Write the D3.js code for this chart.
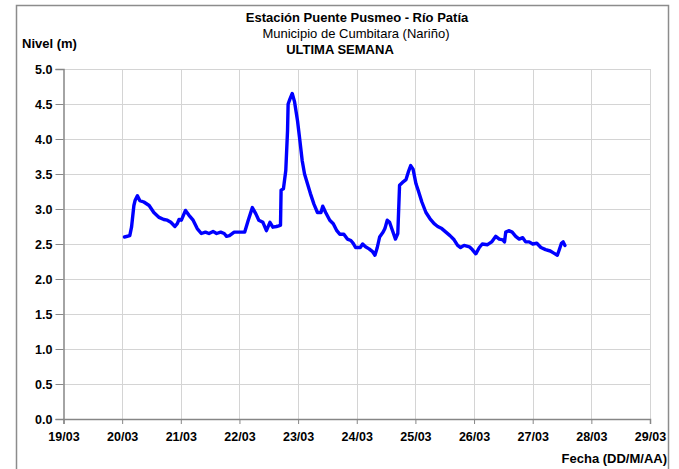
<!DOCTYPE html>
<html>
<head>
<meta charset="utf-8">
<script src="https://cdn.jsdelivr.net/npm/d3@7"></script>
<style>
  html, body { margin: 0; padding: 0; background: #fff; }
  svg { display: block; font-family: "Liberation Sans", Arial, sans-serif; }
</style>
</head>
<body>
<svg id="chart" width="679" height="469"></svg>
<script>
// ---- data ----
const titleMain = "Estación Puente Pusmeo - Río Patía";
const titleSub = "Municipio de Cumbitara (Nariño)";
const titlePeriod = "ULTIMA SEMANA";
const yTitle = "Nivel (m)";
const xTitle = "Fecha (DD/M/AA)";

const xTickDays = [19, 20, 21, 22, 23, 24, 25, 26, 27, 28, 29];
const xTickLabels = ["19/03", "20/03", "21/03", "22/03", "23/03", "24/03", "25/03", "26/03", "27/03", "28/03", "29/03"];
const yTicks = [0, 0.5, 1, 1.5, 2, 2.5, 3, 3.5, 4, 4.5, 5];

// time as day of March (fractional)
const times = [
  20.04, 20.13, 20.16, 20.20, 20.22, 20.26, 20.30, 20.37, 20.46, 20.54, 20.63, 20.71, 20.77, 20.83, 20.90, 20.94, 20.97,
  21.01, 21.08, 21.14, 21.21, 21.28, 21.35, 21.42, 21.48, 21.55, 21.61, 21.68, 21.74, 21.78, 21.83, 21.91, 21.99,
  22.09, 22.15, 22.22, 22.28, 22.33, 22.40, 22.46, 22.52, 22.57, 22.63, 22.67, 22.70, 22.71, 22.75, 22.79, 22.82, 22.83, 22.86, 22.90, 22.94, 22.99,
  23.03, 23.07, 23.11, 23.16, 23.21, 23.27, 23.33, 23.39, 23.42, 23.47, 23.54, 23.60, 23.66, 23.71, 23.78, 23.84, 23.90, 23.94, 23.98,
  24.06, 24.10, 24.15, 24.21, 24.27, 24.31, 24.35, 24.39, 24.45, 24.48, 24.52, 24.56, 24.61, 24.66, 24.70, 24.73, 24.78, 24.84, 24.88, 24.92, 24.96,
  25.01, 25.05, 25.11, 25.18, 25.25, 25.32, 25.38, 25.45, 25.52, 25.59, 25.66, 25.72, 25.77, 25.83, 25.92, 25.97,
  26.03, 26.09, 26.14, 26.23, 26.30, 26.37, 26.43, 26.49, 26.52, 26.54, 26.60, 26.65, 26.71, 26.77, 26.83, 26.88, 26.94,
  27.00, 27.07, 27.14, 27.22, 27.30, 27.36, 27.42, 27.45, 27.49, 27.52, 27.55
];
const levels = [
  2.60, 2.62, 2.74, 3.05, 3.12, 3.19, 3.12, 3.10, 3.05, 2.95, 2.88, 2.85, 2.84, 2.81, 2.75, 2.79, 2.85,
  2.84, 2.98, 2.91, 2.84, 2.72, 2.65, 2.67, 2.65, 2.68, 2.65, 2.67, 2.65, 2.61, 2.62, 2.67, 2.67,
  2.67, 2.84, 3.02, 2.93, 2.84, 2.81, 2.69, 2.81, 2.74, 2.75, 2.76, 2.77, 3.27, 3.29, 3.55, 4.12, 4.50, 4.57, 4.65, 4.53, 4.26,
  3.98, 3.69, 3.50, 3.36, 3.22, 3.07, 2.95, 2.95, 3.04, 2.95, 2.84, 2.79, 2.69, 2.64, 2.64, 2.57, 2.55, 2.51, 2.45,
  2.45, 2.50, 2.46, 2.43, 2.39, 2.34, 2.45, 2.60, 2.67, 2.72, 2.84, 2.81, 2.69, 2.57, 2.65, 3.34, 3.38, 3.42, 3.53, 3.62, 3.57,
  3.36, 3.26, 3.10, 2.95, 2.86, 2.79, 2.75, 2.72, 2.67, 2.62, 2.56, 2.48, 2.45, 2.48, 2.46, 2.42,
  2.36, 2.45, 2.50, 2.49, 2.53, 2.61, 2.57, 2.56, 2.53, 2.67, 2.69, 2.67, 2.61, 2.57, 2.59, 2.53, 2.53,
  2.50, 2.51, 2.45, 2.42, 2.40, 2.37, 2.34, 2.41, 2.51, 2.53, 2.48
];

// ---- chart ----
const svg = d3.select("#chart");
const x = d3.scaleLinear().domain([19, 29]).range([63.5, 650]);
const y = d3.scaleLinear().domain([0, 5]).range([419, 69]);

// outer frame
svg.append("rect")
  .attr("x", 16.5).attr("y", 5.5).attr("width", 652).attr("height", 480)
  .attr("fill", "#fff").attr("stroke", "#8c8c8c").attr("stroke-width", 1.5);

// grid
const grid = svg.append("g").attr("stroke", "#d4d4d4").attr("stroke-width", 1);
grid.selectAll(".hg").data(yTicks.filter(v => v > 0)).enter().append("line")
  .attr("x1", x(19)).attr("x2", x(29))
  .attr("y1", d => Math.round(y(d)) + 0.5).attr("y2", d => Math.round(y(d)) + 0.5);
grid.selectAll(".vg").data(xTickDays.filter(v => v > 19)).enter().append("line")
  .attr("y1", y(0)).attr("y2", y(5))
  .attr("x1", d => Math.round(x(d)) + 0.5).attr("x2", d => Math.round(x(d)) + 0.5);

// axes
const yAxis = d3.axisLeft(y).tickValues(yTicks).tickFormat(d3.format(".1f")).tickSize(8).tickPadding(3);
const gy = svg.append("g").attr("transform", `translate(${x(19)},0)`).call(yAxis);
const xAxis = d3.axisBottom(x).tickValues(xTickDays).tickFormat((d, i) => xTickLabels[i]).tickSize(5).tickPadding(8);
const gx = svg.append("g").attr("transform", `translate(0,${y(0)})`).call(xAxis);

[gx, gy].forEach(g => {
  g.select(".domain").attr("stroke", "#868686").attr("stroke-width", 1.5);
  g.selectAll(".tick line").attr("stroke", "#868686").attr("stroke-width", 1);
  g.selectAll(".tick text").attr("fill", "#000").attr("font-size", 12.5).attr("font-weight", "bold")
    .attr("font-family", "'Liberation Sans', Arial, sans-serif");
});

// line
const pts = times.map((t, i) => [t, levels[i]]);
svg.append("path")
  .datum(pts)
  .attr("fill", "none")
  .attr("stroke", "#0000ff")
  .attr("stroke-width", 3.4)
  .attr("stroke-linejoin", "round")
  .attr("stroke-linecap", "round")
  .attr("d", d3.line().x(d => x(d[0])).y(d => y(d[1])));

// titles
svg.append("text").attr("x", 357).attr("y", 22).attr("text-anchor", "middle")
  .attr("font-size", 13).attr("font-weight", "bold").text(titleMain);
svg.append("text").attr("x", 356).attr("y", 38).attr("text-anchor", "middle")
  .attr("font-size", 13).text(titleSub);
svg.append("text").attr("x", 340).attr("y", 54).attr("text-anchor", "middle")
  .attr("font-size", 13).attr("font-weight", "bold").text(titlePeriod);
svg.append("text").attr("x", 22).attr("y", 48).attr("text-anchor", "start")
  .attr("font-size", 13).attr("font-weight", "bold").text(yTitle);
svg.append("text").attr("x", 667).attr("y", 463).attr("text-anchor", "end")
  .attr("font-size", 13).attr("font-weight", "bold").text(xTitle);
</script>
</body>
</html>
